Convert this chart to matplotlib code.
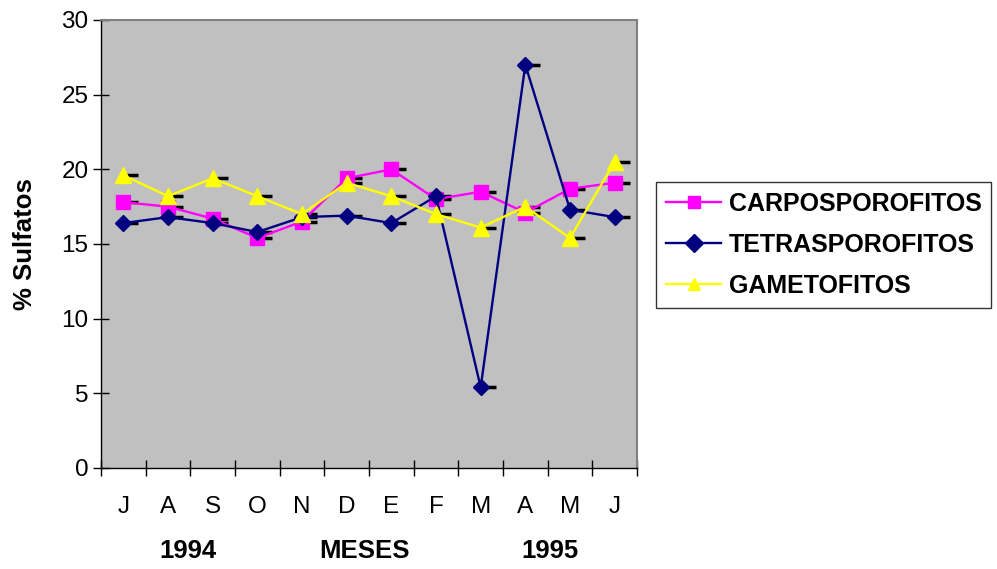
import matplotlib
matplotlib.use("Agg")
import matplotlib.pyplot as plt
from matplotlib.path import Path
import numpy as np

plt.rcParams['font.family'] = ['Liberation Sans', 'DejaVu Sans']

months = ["J", "A", "S", "O", "N", "D", "E", "F", "M", "A", "M", "J"]
carposporofitos = [17.8, 17.5, 16.7, 15.4, 16.5, 19.4, 20.0, 18.0, 18.5, 17.1, 18.7, 19.1]
tetrasporofitos = [16.4, 16.8, 16.4, 15.8, 16.8, 16.9, 16.4, 18.2, 5.4, 27.0, 17.3, 16.8]
gametofitos = [19.6, 18.2, 19.4, 18.2, 17.0, 19.1, 18.2, 17.0, 16.1, 17.5, 15.4, 20.5]

series = [
    ("CARPOSPOROFITOS", carposporofitos, "#FF00FF", "s", 9.5),
    ("TETRASPOROFITOS", tetrasporofitos, "#000080", "D", 8),
    ("GAMETOFITOS", gametofitos, "#FFFF00", "^", 12),
]

# short dash running from each point to the right
dash = Path([[0, 0], [1, 0]], [Path.MOVETO, Path.LINETO])

fig = plt.figure(figsize=(9.97, 5.69), dpi=100)
ax = fig.add_axes([101 / 997, 1 - 468 / 569, (637 - 101) / 997, (468 - 20) / 569])
ax.set_facecolor("#C0C0C0")

x = np.arange(len(months)) + 0.5
handles = []
for name, vals, color, mk, ms in series:
    h, = ax.plot(x, vals, color=color, lw=1.7, marker=mk, markersize=ms,
                 markeredgecolor=color, label=name, zorder=3)
    ax.plot(x, vals, ls="none", marker=dash, markersize=22,
            markeredgecolor="black", markeredgewidth=2.5, zorder=2)
    handles.append(h)

ax.set_xlim(0, len(months))
ax.set_ylim(0, 30)
ax.set_yticks(range(0, 31, 5))
ax.set_xticks(np.arange(len(months) + 1))
ax.set_xticklabels([])
ax.set_xticks(x, minor=True)
ax.set_xticklabels(months, minor=True)
ax.tick_params(axis="x", which="minor", length=0, pad=20, labelsize=17.5)
ax.tick_params(axis="x", which="major", direction="inout", length=12, width=1)
ax.tick_params(axis="y", direction="inout", length=12, width=1, labelsize=17.5, pad=3)

for s in ("top", "right"):
    ax.spines[s].set_color("#808080")
    ax.spines[s].set_linewidth(1.5)
for s in ("left", "bottom"):
    ax.spines[s].set_color("black")
    ax.spines[s].set_linewidth(1)

fig.text(25 / 997, 1 - 244 / 569, "% Sulfatos", rotation=90, ha="center", va="center",
         fontsize=18.5, fontweight="bold")
for label, px in (("1994", 188), ("MESES", 364), ("1995", 550)):
    fig.text(px / 997, 1 - 551 / 569, label, ha="center", va="center",
             fontsize=18.5, fontweight="bold")

leg = fig.legend(handles=handles, loc="upper left",
                 bbox_to_anchor=(656 / 997, 1 - 182 / 569),
                 frameon=True, fancybox=False, edgecolor="black",
                 prop={"weight": "bold", "size": 18}, handlelength=2.2,
                 labelspacing=0.68, borderpad=0.4, handletextpad=0.3,
                 borderaxespad=0)
leg.get_frame().set_linewidth(1)
for lh in leg.legend_handles:
    lh.set_markersize(9)

fig.savefig("out.png", dpi=100)
